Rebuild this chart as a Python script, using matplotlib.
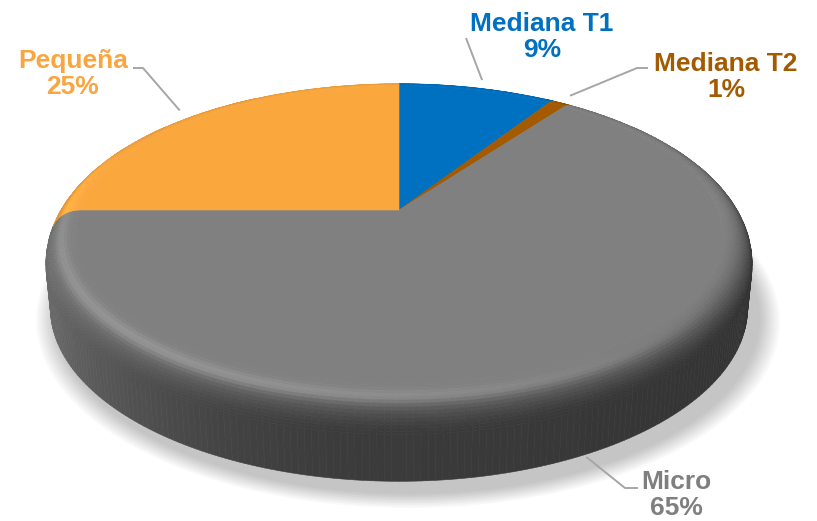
import numpy as np
import matplotlib
matplotlib.use("Agg")
import matplotlib.pyplot as plt
from matplotlib.collections import PolyCollection
from matplotlib.colors import to_rgb

# datos del gráfico
labels = ["Mediana T1", "Mediana T2", "Micro", "Pequeña"]
values = [9, 1, 65, 25]
colors = ["#0070C0", "#A35A00", "#808080", "#FAA73E"]
label_colors = ["#0070C0", "#A35A00", "#7F7F7F", "#F9A540"]

# posiciones de etiquetas (texto y codo de la línea guía), en píxeles
label_pos = [(542, 37), (726, 77), (676, 495), (73, 74)]
elbows = [[(466, 38)], [(637, 68), (648, 68)], [(625, 488), (638, 488)], [(143, 68), (133, 68)]]

# vista en perspectiva del pastel 3D
CX, CY = 399, 210
ELEV = np.radians(27)
DIST = 4.9
FOCAL = 1715
THICK = 0.22
BEV_W, BEV_H = 0.09, 0.085
R0 = 1 - BEV_W

s_e, c_e = np.sin(ELEV), np.cos(ELEV)
cam = np.array([0.0, -DIST * c_e, DIST * s_e])


def project(u, v, h):
    X = u
    Y = v * s_e + h * c_e
    Z = DIST + v * c_e - h * s_e
    return CX + FOCAL * X / Z, CY - FOCAL * Y / Z


def pt(r, th, h):
    return project(r * np.sin(th), r * np.cos(th), h)


def side_factor(nx, ny):
    return 0.46 + 0.4 * max(0, -nx) ** 2 - 0.06 * max(0, nx)


fig = plt.figure(figsize=(8.17, 5.21), dpi=100)
ax = fig.add_axes([0, 0, 1, 1])
ax.set_xlim(0, 817)
ax.set_ylim(521, 0)
ax.axis("off")

# sombra suave
th = np.linspace(0, 2 * np.pi, 240)
for k in range(10):
    rr = 1.055 - k * 0.006
    xs, ys = project(rr * np.sin(th) + 0.025, rr * np.cos(th) - 0.05, -THICK)
    ax.fill(xs, ys, color="black", alpha=0.022, lw=0)

total = sum(values)
bounds = np.radians(np.concatenate([[0], np.cumsum(values)]) / total * 360)

polys, fcs = [], []
NPROF = 16
tprof = np.linspace(0, np.pi / 2, NPROF + 1)
for i, col in enumerate(colors):
    base = np.array(to_rgb(col))
    a0, a1 = bounds[i], bounds[i + 1]
    nseg = max(2, int(np.degrees(a1 - a0)))
    ths = np.linspace(a0, a1, nseg + 1)
    # cara superior
    xs, ys = pt(R0, ths, 0)
    cx0, cy0 = project(0, 0, 0)
    polys.append(np.column_stack([np.r_[cx0, xs], np.r_[cy0, ys]]))
    fcs.append(base)
    for j in range(nseg):
        t0, t1 = ths[j], ths[j + 1]
        tm = 0.5 * (t0 + t1)
        nx, ny = np.sin(tm), np.cos(tm)
        g = side_factor(nx, ny)
        # bisel
        for k in range(NPROF):
            p0, p1 = tprof[k], tprof[k + 1]
            pm = 0.5 * (p0 + p1)
            n = np.array([np.sin(pm) * nx, np.sin(pm) * ny, np.cos(pm)])
            r_m = R0 + BEV_W * np.sin(pm)
            h_m = -BEV_H * (1 - np.cos(pm))
            p = np.array([r_m * nx, r_m * ny, h_m])
            if np.dot(n, cam - p) <= 0:
                continue
            w = np.sin(pm) ** 2
            light = max(0.0, -0.45 * nx - 0.8 * ny)
            hl = 0.26 * np.exp(-((pm - 0.5) / 0.22) ** 2) * light
            f = (1 - w) * 1.0 + w * g + hl
            ra, rb = R0 + BEV_W * np.sin(p0), R0 + BEV_W * np.sin(p1)
            ha, hb = -BEV_H * (1 - np.cos(p0)), -BEV_H * (1 - np.cos(p1))
            q = [pt(ra, t0, ha), pt(ra, t1, ha), pt(rb, t1, hb), pt(rb, t0, hb)]
            polys.append(np.array(q))
            fcs.append(np.clip(base * f, 0, 1))
        # lateral
        n = np.array([nx, ny, 0])
        p = np.array([nx, ny, -0.15])
        if np.dot(n, cam - p) > 0:
            q = [pt(1, t0, -BEV_H), pt(1, t1, -BEV_H), pt(1, t1, -THICK), pt(1, t0, -THICK)]
            polys.append(np.array(q))
            fcs.append(np.clip(base * g, 0, 1))

pc = PolyCollection(polys, facecolors=fcs, edgecolors=fcs, linewidths=0.4)
ax.add_collection(pc)

# etiquetas con líneas guía
for i, lab in enumerate(labels):
    mid = 0.5 * (bounds[i] + bounds[i + 1])
    if np.cos(mid) < 0:
        ax_, ay_ = pt(1.01, mid, -THICK)
    else:
        ax_, ay_ = pt(1.0, mid, 0)
    xs = [ax_] + [e[0] for e in elbows[i]]
    ys = [ay_] + [e[1] for e in elbows[i]]
    ax.plot(xs, ys, color="#A6A6A6", lw=1.4, solid_capstyle="butt")
    pct = f"{values[i] / total * 100:.0f}%"
    ax.text(label_pos[i][0], label_pos[i][1], f"{lab}\n{pct}", ha="center", va="center",
            fontsize=19, fontweight="bold", color=label_colors[i],
            family=["Liberation Sans", "DejaVu Sans"], linespacing=1.15)

fig.savefig("out.png", dpi=100)
